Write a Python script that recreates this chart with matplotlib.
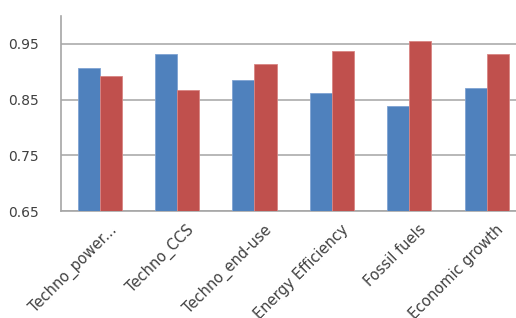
import matplotlib.pyplot as plt
import matplotlib.transforms as mtransforms
import numpy as np

categories = ['Techno_power...', 'Techno_CCS', 'Techno_end-use',
              'Energy Efficiency', 'Fossil fuels', 'Economic growth']
blue_vals = [0.907, 0.932, 0.885, 0.862, 0.838, 0.871]
red_vals = [0.893, 0.867, 0.913, 0.937, 0.956, 0.931]
yticks = [0.65, 0.75, 0.85, 0.95]

fig = plt.figure(figsize=(5.16, 3.18), dpi=100, facecolor='w')
ax = fig.add_axes([61/516, 1-211/318, 1-61/516, (211-16)/318])

x = np.arange(len(categories))
w = 0.285
ax.bar(x - w/2, blue_vals, width=w, color='#4f81bd', edgecolor='#7fa3d3', linewidth=0.6, zorder=3)
ax.bar(x + w/2, red_vals, width=w, color='#c0504d', edgecolor='#d98583', linewidth=0.6, zorder=3)

ax.set_ylim(0.65, 1.0)
ax.set_xlim(-0.5, 5.38)
ax.set_yticks(yticks)
ax.set_yticklabels(['%.2f' % v for v in yticks])
ax.set_xticks(x)
ax.set_xticklabels(categories, rotation=45, ha='right', rotation_mode='anchor')

ax.yaxis.grid(True, color='#ababab', linewidth=1.2, zorder=0)
ax.set_axisbelow(True)
for s in ['top', 'right']:
    ax.spines[s].set_visible(False)
ax.spines['left'].set_color('#a6a6a6')
ax.spines['bottom'].set_color('#a6a6a6')
ax.spines['left'].set_linewidth(1.2)
ax.spines['bottom'].set_linewidth(1.2)
ax.tick_params(axis='y', length=0, pad=16, labelsize=10, colors='#404040')
ax.tick_params(axis='x', length=0, pad=8, labelsize=10.5, colors='#404040')

# shift labels a bit to the right like the original
shift = mtransforms.ScaledTranslation(9/100, 0, fig.dpi_scale_trans)
for lbl in ax.get_xticklabels():
    lbl.set_transform(lbl.get_transform() + shift)

fig.savefig('out.png', dpi=100)
